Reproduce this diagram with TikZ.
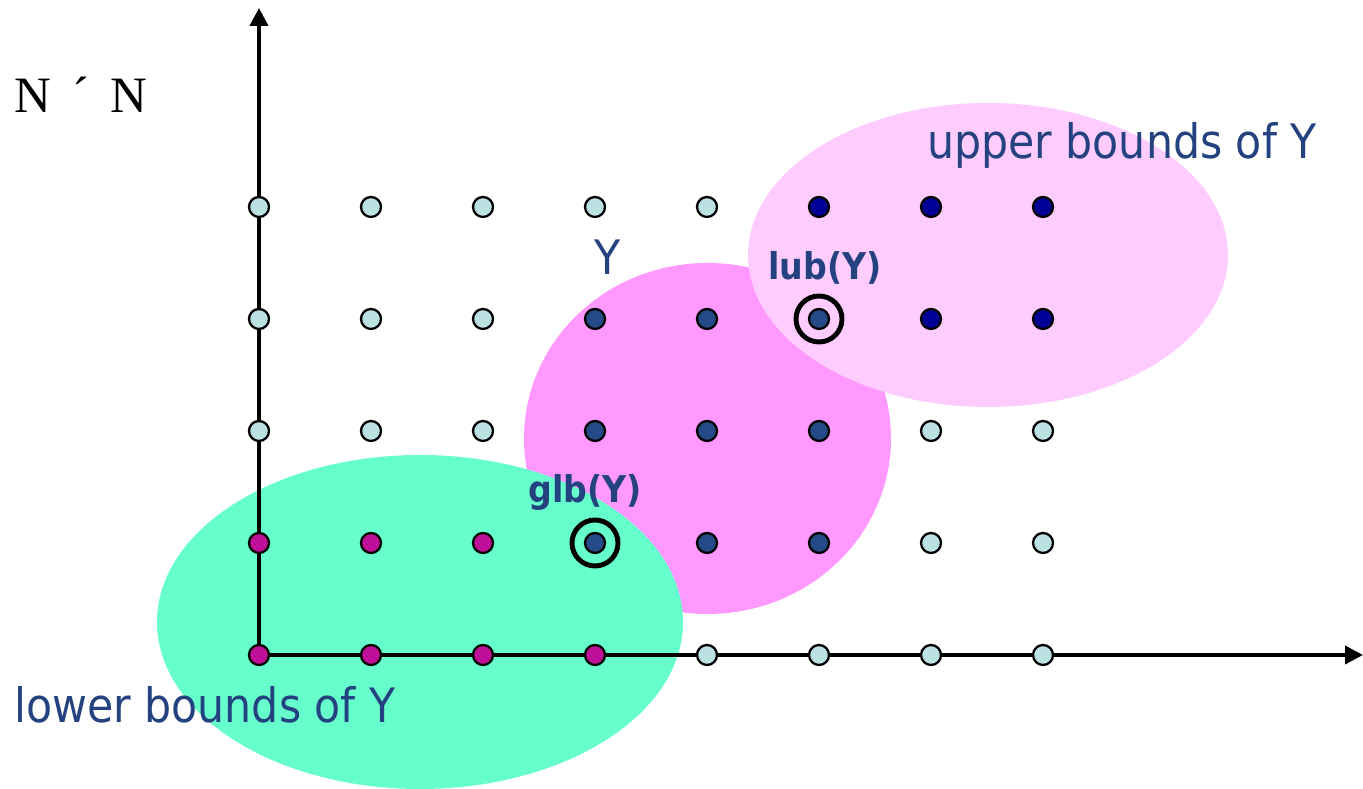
\documentclass[tikz,border=0pt]{standalone}
\usepackage{fontspec}
\usepackage{xcolor}
\usetikzlibrary{arrows.meta}
\newfontfamily\labelfont{DejaVu Sans Condensed}
\newfontfamily\timesfont{Liberation Serif}
\definecolor{ink}{HTML}{23427F}
\definecolor{ptlight}{HTML}{BBE1E3}
\definecolor{ptupper}{HTML}{000096}
\definecolor{ptmember}{HTML}{264A88}
\definecolor{ptlower}{HTML}{C0109A}
\definecolor{lowfill}{HTML}{66FFCC}
\definecolor{setfill}{HTML}{FF99FF}
\definecolor{upfill}{HTML}{FFCCFF}

\begin{document}
\begin{tikzpicture}[
    pt/.style={circle, draw=black, line width=0.65pt, minimum size=0.2cm, inner sep=0pt},
    ring/.style={circle, draw=black, line width=1.4pt, minimum size=0.46cm, inner sep=0pt},
    axis/.style={line width=1.1pt, -{Triangle[length=1.8mm, width=1.8mm]}},
    caption/.style={font=\labelfont\fontsize{13.5}{16}\selectfont, text=ink, inner sep=0pt},
    tag/.style={font=\labelfont\bfseries\fontsize{10.5}{12}\selectfont, text=ink, inner sep=0pt}]
    \useasboundingbox (0,0) rectangle (13.63,7.89);

    % sets
    \fill[setfill] (7.075,3.505) ellipse [x radius=1.835, y radius=1.755];
    \fill[lowfill] (4.20,1.67) ellipse [x radius=2.63, y radius=1.67];
    \fill[upfill] (9.88,5.34) ellipse [x radius=2.40, y radius=1.52];

    % axes
    \coordinate (O) at (2.59,1.34);
    \coordinate (ytop) at (2.59,7.81);
    \coordinate (xend) at (13.63,1.34);
    \draw[axis] (O) -- (ytop);
    \draw[axis] (O) -- (xend);

    % grid points
    \foreach \i/\j in {0/4,1/4,2/4,3/4,4/4,0/3,1/3,2/3,0/2,1/2,2/2,6/2,7/2,6/1,7/1,4/0,5/0,6/0,7/0}
        \node[pt, fill=ptlight] (p\i\j) at ({2.59+1.12*\i},{1.34+1.12*\j}) {};
    \foreach \i/\j in {5/4,6/4,7/4,6/3,7/3}
        \node[pt, fill=ptupper] (p\i\j) at ({2.59+1.12*\i},{1.34+1.12*\j}) {};
    \foreach \i/\j in {3/3,4/3,5/3,3/2,4/2,5/2,3/1,4/1,5/1}
        \node[pt, fill=ptmember] (p\i\j) at ({2.59+1.12*\i},{1.34+1.12*\j}) {};
    \foreach \i/\j in {0/0,1/0,2/0,3/0,0/1,1/1,2/1}
        \node[pt, fill=ptlower] (p\i\j) at ({2.59+1.12*\i},{1.34+1.12*\j}) {};

    \node[ring] (lub) at (p53) {};
    \node[ring] (glb) at (p31) {};

    % labels
    \node[tag] (lubtext) at (8.25,5.21) {lub(Y)};
    \node[tag] (glbtext) at (5.85,2.97) {glb(Y)};
    \node[caption] (ytext) at (6.08,5.32) {Y};
    \node[caption] (uptext) at (11.22,6.44) {upper bounds of Y};
    \node[caption] (lowtext) at (2.05,0.84) {lower bounds of Y};
    \node[font=\timesfont\fontsize{14.5}{17}\selectfont, inner sep=0pt] (nn) at (0.81,6.94) {N \,´\, N};
\end{tikzpicture}
\end{document}
